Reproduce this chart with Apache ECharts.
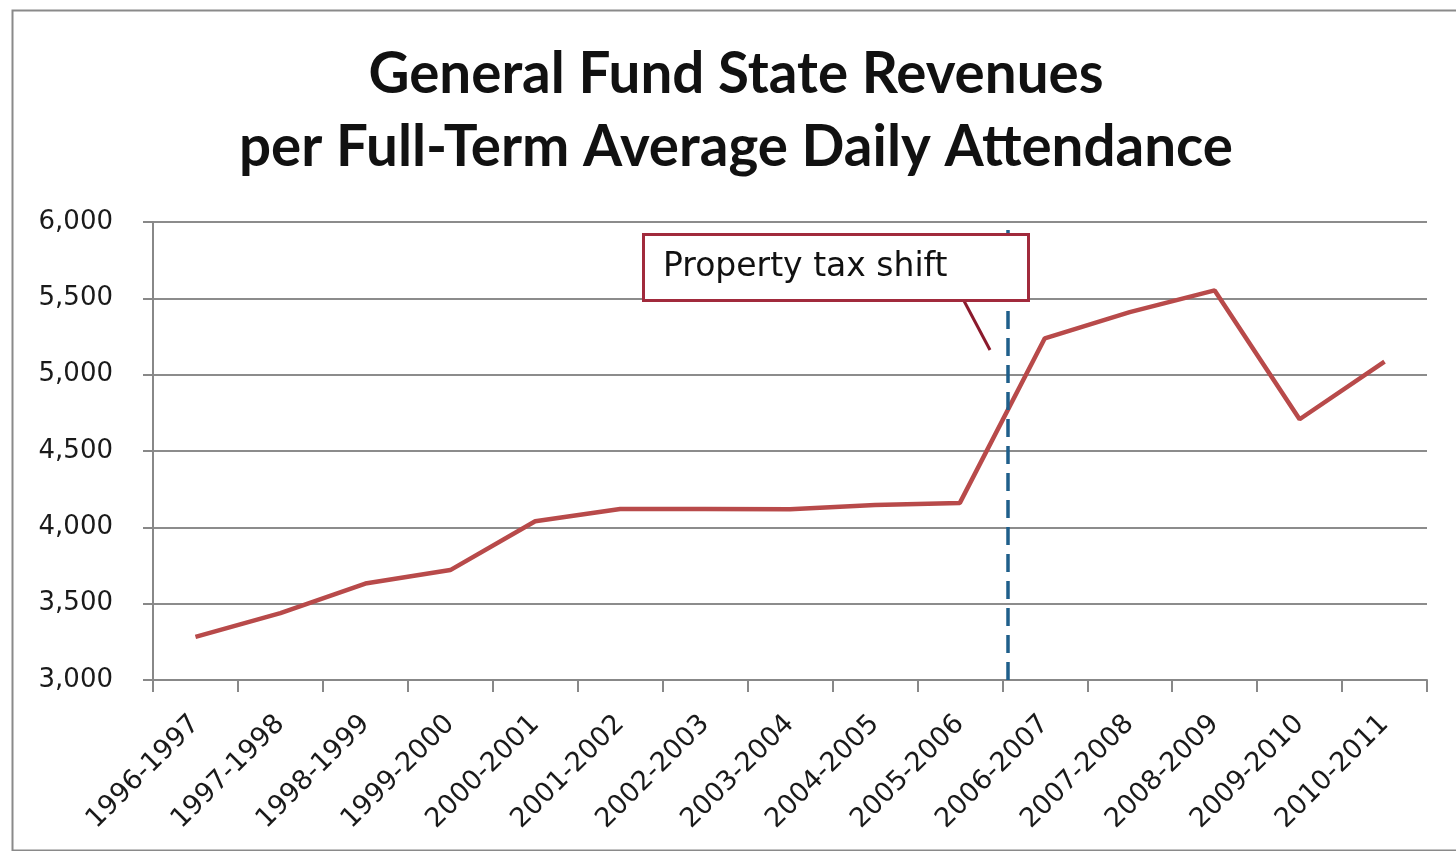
<!DOCTYPE html>
<html>
<head>
<meta charset="utf-8">
<title>General Fund State Revenues per Full-Term ADA</title>
<script src="https://cdn.jsdelivr.net/npm/echarts@6/dist/echarts.min.js"></script>
<style>
  html, body { margin: 0; padding: 0; background: #fff; }
  #chart { width: 1456px; height: 851px; }
</style>
</head>
<body>
<div id="chart"></div>
<script>
// school years on the category axis
const years = [
  '1996-1997', '1997-1998', '1998-1999', '1999-2000', '2000-2001',
  '2001-2002', '2002-2003', '2003-2004', '2004-2005', '2005-2006',
  '2006-2007', '2007-2008', '2008-2009', '2009-2010', '2010-2011'
];
// general fund state revenue per full-term ADA
const revenue = [
  3282, 3438, 3632, 3720, 4040,
  4120, 4120, 4118, 4146, 4160,
  5238, 5410, 5552, 4708, 5085
];
// y axis range
const yMin = 3000;
const yMax = 6000;
const yStep = 500;
// where the property tax shift falls, in category units from the left edge
const shiftAt = [10.06];
const shiftLabel = 'Property tax shift';

const chart = echarts.init(document.getElementById('chart'));

const option = {
  animation: false,
  backgroundColor: '#fff',
  title: {
    text: 'General Fund State Revenues\nper Full-Term Average Daily Attendance',
    left: 731,
    textAlign: 'center',
    top: 33,
    textStyle: {
      fontFamily: 'Lato',
      fontWeight: 'bold',
      fontSize: 56.5,
      lineHeight: 73,
      color: '#111'
    }
  },
  grid: {
    left: 153,
    right: 29,
    top: 222,
    bottom: 171
  },
  xAxis: [
    {
      type: 'category',
      data: years,
      boundaryGap: true,
      axisLine: { lineStyle: { color: '#888', width: 2 } },
      axisTick: { show: true, length: 12, lineStyle: { color: '#888', width: 2 } },
      axisLabel: {
        rotate: 45,
        margin: 40,
        interval: 0,
        fontFamily: 'DejaVu Sans',
        fontSize: 27,
        color: '#1a1a1a'
      },
      splitLine: { show: false }
    },
    {
      // hidden helper axis so the divider can sit between categories
      type: 'value',
      min: 0,
      max: years.length,
      show: false
    }
  ],
  yAxis: {
    type: 'value',
    min: yMin,
    max: yMax,
    interval: yStep,
    axisLine: { show: true, lineStyle: { color: '#888', width: 2 } },
    axisTick: { show: true, length: 10, lineStyle: { color: '#888', width: 2 } },
    axisLabel: {
      margin: 40,
      fontFamily: 'DejaVu Sans',
      fontSize: 26,
      color: '#1a1a1a',
      formatter: function (v) {
        return v.toLocaleString('en-US');
      }
    },
    splitLine: { show: true, lineStyle: { color: '#8c8c8c', width: 2 } }
  },
  series: [
    {
      name: 'Revenue per ADA',
      type: 'line',
      data: revenue,
      symbol: 'none',
      lineStyle: { color: '#b84a4a', width: 4.5 },
      z: 3
    },
    {
      name: 'shift',
      type: 'line',
      xAxisIndex: 1,
      data: [],
      markLine: {
        silent: true,
        symbol: 'none',
        label: { show: false },
        lineStyle: { color: '#1f5f8b', width: 3.5, type: [18, 9] },
        data: shiftAt.map(function (v) { return { xAxis: v }; })
      },
      z: 4
    }
  ],
  graphic: [
    {
      // outer chart frame (right edge runs off the picture)
      type: 'rect',
      left: 10,
      top: 8,
      shape: { width: 1500, height: 840 },
      style: { fill: 'none', stroke: '#8a8a8a', lineWidth: 2 },
      z: 1
    },
    {
      // callout pointer
      type: 'line',
      shape: { x1: 963, y1: 299, x2: 990, y2: 350 },
      style: { stroke: '#8b1a2c', lineWidth: 3 },
      z: 20
    },
    {
      type: 'rect',
      left: 642,
      top: 233,
      shape: { width: 385, height: 66 },
      style: { fill: '#fff', stroke: '#a12a3c', lineWidth: 3 },
      z: 20
    },
    {
      type: 'text',
      left: 663,
      top: 251,
      style: {
        text: shiftLabel,
        fontFamily: 'DejaVu Sans',
        fontSize: 33,
        fill: '#111'
      },
      z: 21
    }
  ]
};

chart.setOption(option);
</script>
</body>
</html>
